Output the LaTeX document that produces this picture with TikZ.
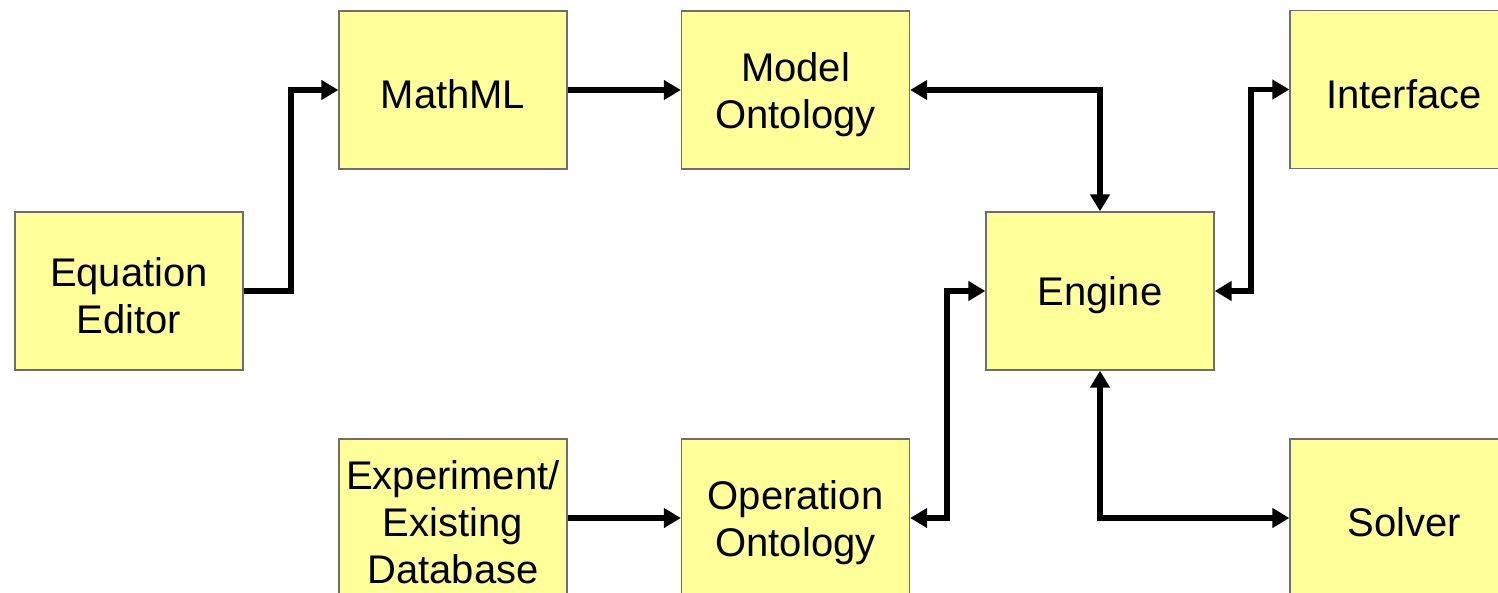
\documentclass[tikz,border=0pt]{standalone}
\usepackage{fontspec}
\setmainfont{Liberation Sans}
\usetikzlibrary{arrows.meta}
\definecolor{boxfill}{HTML}{FFFF99}
\definecolor{boxline}{HTML}{6E6E6E}
\begin{document}
\begin{tikzpicture}[x=1pt,y=-1pt,
  blk/.style={draw=boxline,line width=1.3pt,fill=boxfill,minimum width=228pt,minimum height=158pt,
    inner sep=0pt,align=center,text height=38pt,font=\fontsize{40}{47}\selectfont},
  blktwo/.style={blk,text height=86pt},
  blkthree/.style={blk,text height=131pt},
  conn/.style={line width=5.5pt,miter limit=10,-{Triangle[length=17pt,width=19pt]}},
  bconn/.style={line width=5.5pt,{Triangle[length=17pt,width=19pt]}-{Triangle[length=17pt,width=19pt]}}]
\useasboundingbox (0,0) rectangle (1498,592);
\clip (0,0) rectangle (1498,592);
\node[blktwo] (eq) at (129,291) {Equation\\Editor};
\node[blk] (mml) at (453,90) {MathML};
\node[blktwo] (mo) at (795.5,90) {Model\\Ontology};
\node[blk] (eng) at (1100,291) {Engine};
\node[blk] (intf) at (1404,89.5) {Interface};
\node[blkthree] (exp) at (453,518) {Experiment/\\Existing\\Database};
\node[blktwo] (oo) at (795.5,518) {Operation\\Ontology};
\node[blk] (sol) at (1404,518) {Solver};
\coordinate (c1) at (291,0);
\draw[conn] (eq.east) -| (c1 |- eq.east) |- (mml.west);
\draw[conn] (mml.east) -- (mo.west);
\draw[bconn] (mo.east) -| (eng.north);
\coordinate (c2) at (1251,0);
\draw[bconn] (eng.east) -| (c2 |- eng.east) |- (intf.west);
\coordinate (c3) at (947,0);
\draw[bconn] (oo.east) -| (c3 |- oo.east) |- (eng.west);
\draw[conn] (exp.east) -- (oo.west);
\draw[bconn] (eng.south) |- (sol.west);
\end{tikzpicture}
\end{document}
